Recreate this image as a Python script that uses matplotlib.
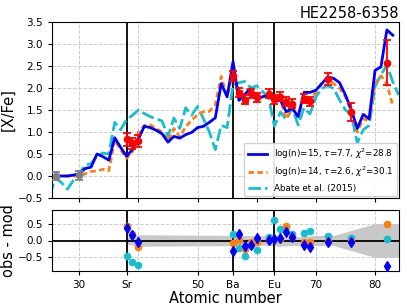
import matplotlib
matplotlib.use("Agg")
import matplotlib.pyplot as plt
import numpy as np

# ---------------- data ----------------
title = "HE2258-6358"

model_Z = list(range(26, 84))
model1 = [0.0, 0.0, 0.0, 0.02, 0.05, 0.17, 0.2, 0.5, 0.44, 0.36,
          0.87, 0.65, 0.45, 0.6, 0.84, 1.13, 1.1, 1.04, 0.96, 0.77,
          0.9, 0.86, 0.94, 0.99, 1.1, 1.13, 1.22, 1.32, 2.1, 1.8,
          2.6, 1.72, 1.86, 1.98, 1.75, 1.8, 1.84, 1.7, 1.72, 1.46,
          1.54, 1.35, 1.9, 1.9, 1.95, 2.1, 2.25, 2.22, 2.12, 1.84,
          1.5, 1.08, 1.4, 1.3, 2.4, 2.48, 3.32, 3.2]
model2_Z = list(range(26, 84))
model2 = [0.0, 0.0, 0.0, 0.0, 0.0, 0.05, 0.1, 0.12, 0.15, 0.12,
          0.82, 0.6, 0.4, 0.55, 0.99, 1.15, 1.16, 1.08, 1.0, 0.8,
          1.08, 0.89, 1.12, 1.27, 1.39, 1.46, 1.47, 1.62, 2.26, 1.8,
          2.36, 1.88, 1.97, 1.92, 1.84, 1.8, 1.85, 1.7, 1.75, 1.3,
          1.55, 1.35, 1.8, 1.75, 1.9, 2.1, 2.2, 2.1, 2.0, 1.8,
          1.46, 1.0, 1.3, 1.25, 2.1, 2.28, 2.09, 1.6]
abate_Z = list(range(25, 85))
abate = [-0.45, -0.05, -0.15, -0.3, -0.1, 0.05, 0.25, 0.28, 0.45, 0.52,
         0.5, 1.22, 1.05, 1.28, 1.38, 1.5, 1.42, 1.35, 1.3, 1.25,
         0.9, 1.32, 1.08, 1.55, 1.38, 1.58, 1.3, 1.0, 0.6, 1.15,
         1.1, 2.08, 2.12, 2.15, 2.0, 2.05, 1.92, 1.78, 1.13, 1.45,
         1.28, 1.54, 1.16, 1.55, 1.41, 1.8, 1.99, 2.05, 1.99, 1.73,
         1.5, 1.39, 0.75, 1.05, 1.15, 2.03, 2.3, 2.52, 2.14, 1.84]

# observed abundances (fitted, red)
obs_Z = [38, 39, 40, 56, 57, 58, 59, 60, 62, 63, 64, 65, 66, 68, 69, 72, 76, 82]
obs_val = [0.83, 0.74, 0.79, 2.28, 1.89, 1.73, 1.88, 1.79, 1.87, 1.74,
           1.80, 1.69, 1.64, 1.76, 1.70, 2.20, 1.46, 2.57]
obs_err = [0.15, 0.12, 0.14, 0.11, 0.1, 0.1, 0.1, 0.1, 0.1, 0.1,
           0.1, 0.1, 0.1, 0.1, 0.1, 0.13, 0.2, 0.51]
# light elements (grey)
light_Z = [26, 30]
light_val = [0.0, 0.02]
light_err = [0.1, 0.1]

# residuals obs - mod
res1 = [0.38, 0.15, -0.05, -0.32, 0.19, -0.15, -0.13, 0.07, 0.02, 0.05,
        0.07, 0.25, 0.09, -0.13, -0.18, -0.05, -0.05, -0.74]
res2 = [0.44, 0.19, -0.2, -0.08, 0.01, -0.24, -0.05, -0.05, 0.02, 0.04,
        0.05, 0.44, 0.09, -0.03, -0.03, 0.0, 0.0, 0.48]
res3 = [-0.45, -0.64, -0.73, 0.19, -0.22, -0.45, -0.12, -0.27, 0.09, 0.61,
        0.34, 0.41, 0.2, 0.22, 0.29, 0.12, 0.07, 0.05]

band_Z = [38, 40, 56, 62, 64, 66, 70, 73, 80, 84]
band_up = [0.1, 0.17, 0.15, 0.14, 0.07, 0.1, 0.15, 0.15, 0.5, 0.5]
band_lo = [-0.1, -0.17, -0.15, -0.14, -0.17, -0.15, -0.15, -0.15, -0.5, -0.5]

label1 = r"log(n)=15, $\tau$=7.7, $\chi^2$=28.8"
label2 = r"log(n)=14, $\tau$=2.6, $\chi^2$=30.1"
label3 = "Abate et al. (2015)"

mark_Z = [38, 56, 63]
xtick_pos = [30, 38, 50, 56, 63, 70, 80]
xtick_lab = ["30", "Sr", "50", "Ba", "Eu", "70", "80"]

# ---------------- figure ----------------
fig = plt.figure(figsize=(4.07, 3.05), dpi=100)
W, H = 407, 305
ax = fig.add_axes([52 / W, 1 - 198 / H, 347 / W, 176 / H])
axr = fig.add_axes([52 / W, 1 - 271 / H, 347 / W, 61 / H])

xlim = (25.4, 84.05)
grid_kw = dict(color="#cccccc", ls="--", lw=0.7, zorder=0)

# top panel
for gx in [30, 40, 50, 60, 70, 80]:
    ax.axvline(gx, **grid_kw)
for gy in np.arange(-0.5, 3.51, 0.5):
    ax.axhline(gy, **grid_kw)
for z in mark_Z:
    ax.axvline(z, color="black", lw=1.3, zorder=1)

ax.plot(model_Z, model1, color="blue", lw=2.0, label=label1, zorder=4)
ax.plot(model2_Z, model2, color="#ff7f0e", lw=2.0, ls=(0, (2, 1.2)), label=label2, zorder=3)
ax.plot(abate_Z, abate, color="#17becf", lw=2.0, ls=(0, (4.5, 1.5)), label=label3, zorder=2)
ax.errorbar(obs_Z, obs_val, yerr=obs_err, fmt="o", color="red", ms=4.5,
            capsize=3, elinewidth=1.3, capthick=1.3, zorder=6)
ax.errorbar(light_Z, light_val, yerr=light_err, fmt="o", color="gray", ms=4.5,
            capsize=3, elinewidth=1.3, capthick=1.3, zorder=6)

ax.set_xlim(*xlim)
ax.set_ylim(-0.5, 3.5)
ax.set_yticks(np.arange(-0.5, 3.51, 0.5))
ax.set_xticks([30, 40, 50, 60, 70, 80])
ax.set_xticklabels([])
ax.tick_params(labelsize=7.5, length=3)
ax.set_ylabel("[X/Fe]", fontsize=10.5)
ax.yaxis.set_label_coords(-0.105, 0.5)
ax.set_title(title, loc="right", fontsize=10.5, pad=3)
leg = ax.legend(loc="lower right", fontsize=6.3, borderaxespad=0.2,
                handlelength=2.2, labelspacing=0.5, framealpha=0.9)

# bottom panel
for gx in [30, 40, 50, 60, 70, 80]:
    axr.axvline(gx, **grid_kw)
for gy in [-0.5, 0.5]:
    axr.axhline(gy, **grid_kw)
axr.fill_between(band_Z, band_lo, band_up, color="#c8c8c8", lw=0, zorder=1)
axr.axhline(0, color="black", lw=1.3, zorder=2)
for z in mark_Z:
    axr.axvline(z, color="black", lw=1.3, zorder=2)
axr.plot(obs_Z, res3, "o", color="#17becf", ms=4.5, zorder=3)
axr.plot(obs_Z, res2, "o", color="#ff7f0e", ms=4.5, zorder=4)
axr.plot(obs_Z, res1, "d", color="blue", ms=5, zorder=5)
axr.set_xlim(*xlim)
axr.set_ylim(-0.9, 0.9)
axr.set_yticks([-0.5, 0.0, 0.5])
axr.set_xticks(xtick_pos)
axr.set_xticklabels(xtick_lab)
axr.tick_params(labelsize=7.5, length=3)
axr.set_ylabel("obs - mod", fontsize=10.5)
axr.yaxis.set_label_coords(-0.105, 0.5)
axr.set_xlabel("Atomic number", fontsize=10.5, labelpad=1)

fig.savefig("out.png", dpi=100)
